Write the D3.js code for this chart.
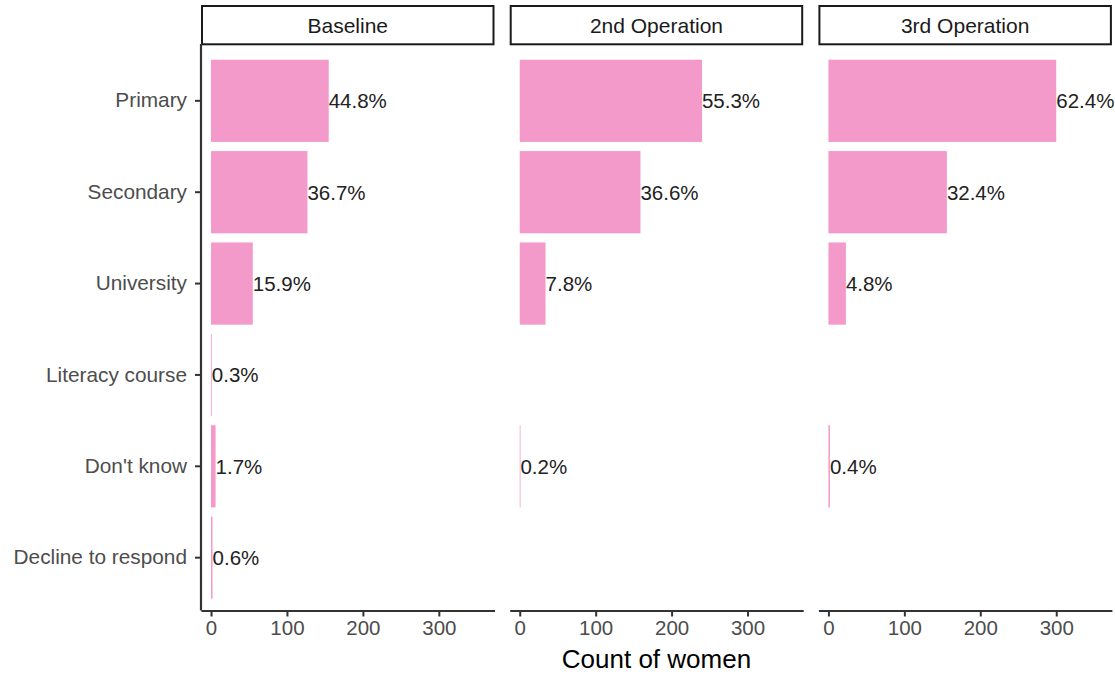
<!DOCTYPE html>
<html>
<head>
<meta charset="utf-8">
<script src="https://cdn.jsdelivr.net/npm/d3@7"></script>
<style>
  html, body { margin: 0; padding: 0; background: #fff; }
  svg { display: block; font-family: "Liberation Sans", Arial, Helvetica, sans-serif; }
</style>
</head>
<body>
<div id="chart"></div>
<script>
// education level, one row per bar
const categories = ["Primary", "Secondary", "University", "Literacy course", "Don't know", "Decline to respond"];
const stages = ["Baseline", "2nd Operation", "3rd Operation"];

// counts of women per category (0 = no bar drawn)
const baselineCounts = [155, 127, 55, 1, 6, 2];
const op2Counts      = [240, 159, 34, 0, 1, 0];
const op3Counts      = [300, 156, 23, 0, 2, 0];

const xTicks = [0, 100, 200, 300];
const xTitle = "Count of women";

const W = 1115, H = 675;
const FILL = "#F49ACA";
const AXIS = "#333333";

// panel geometry (ggplot facet_wrap, classic theme)
const panelW = 293.5, panelGap = 15.2, panelLeft = 201;
const stripTop = 6, stripBot = 44.3;
const plotTop = 46, plotBot = 612.5, axisY = 610.5;

const facets = stages.map((s, i) => {
    const counts = [baselineCounts, op2Counts, op3Counts][i];
    const total = d3.sum(counts);
    return {
        stage: s,
        x0: panelLeft + i * (panelW + panelGap),
        rows: categories.map((c, j) => ({ cat: c, n: counts[j], pct: counts[j] / total * 100 }))
                        .filter(d => d.n > 0)
    };
});

const svg = d3.select("#chart").append("svg")
    .attr("width", W).attr("height", H)
    .attr("viewBox", `0 0 ${W} ${H}`);

const y = d3.scaleBand()
    .domain(categories)
    .range([plotTop, plotBot])
    .paddingInner(0.1)
    .paddingOuter(0.15);

facets.forEach((f, i) => {
    const x = d3.scaleLinear().domain([-13.2, 373.3]).range([f.x0, f.x0 + panelW]);
    const g = svg.append("g");

    // strip
    g.append("rect")
        .attr("x", f.x0 + 1).attr("y", stripTop)
        .attr("width", panelW - 2).attr("height", stripBot - stripTop)
        .attr("fill", "#fff").attr("stroke", "#1a1a1a").attr("stroke-width", 2);
    g.append("text")
        .attr("x", f.x0 + panelW / 2).attr("y", (stripTop + stripBot) / 2)
        .attr("dy", "0.36em").attr("text-anchor", "middle")
        .attr("fill", "#1A1A1A").style("font-size", "21px")
        .text(f.stage);

    // bars
    g.selectAll("rect.bar").data(f.rows).join("rect")
        .attr("class", "bar")
        .attr("x", x(0)).attr("y", d => y(d.cat))
        .attr("width", d => x(d.n) - x(0))
        .attr("height", y.bandwidth())
        .attr("fill", FILL);

    // labels
    g.selectAll("text.lab").data(f.rows).join("text")
        .attr("class", "lab")
        .attr("x", d => x(d.n)).attr("y", d => y(d.cat) + y.bandwidth() / 2)
        .attr("dy", "0.36em")
        .attr("fill", "#222").style("font-size", "20.5px")
        .text(d => d.pct.toFixed(1) + "%");

    // x axis
    const xa = g.append("g").attr("transform", `translate(0,${axisY})`)
        .call(d3.axisBottom(x).tickValues(xTicks).tickSize(6).tickPadding(4).tickSizeOuter(0));
    xa.select(".domain").attr("stroke", AXIS).attr("stroke-width", 2.2);
    xa.selectAll(".tick line").attr("stroke", AXIS).attr("stroke-width", 2);
    xa.selectAll(".tick text").attr("fill", "#4D4D4D")
        .style("font-size", "20.5px").style("font-family", "inherit");

    // y axis only on the first panel, others have just a line
    if (i === 0) {
        const ya = g.append("g").attr("transform", `translate(${f.x0},0)`)
            .call(d3.axisLeft(y).tickSize(6).tickPadding(8).tickSizeOuter(0));
        ya.select(".domain").attr("stroke", AXIS).attr("stroke-width", 2.2)
            .attr("d", `M0,${plotTop - 2}V${axisY}`);
        ya.selectAll(".tick line").attr("stroke", AXIS).attr("stroke-width", 2);
        ya.selectAll(".tick text").attr("fill", "#4D4D4D")
            .style("font-size", "20.8px").style("font-family", "inherit");
    }
});

// axis title
svg.append("text")
    .attr("x", (panelLeft + facets[2].x0 + panelW) / 2).attr("y", 668)
    .attr("text-anchor", "middle")
    .attr("fill", "#000").style("font-size", "26px")
    .text(xTitle);
</script>
</body>
</html>
